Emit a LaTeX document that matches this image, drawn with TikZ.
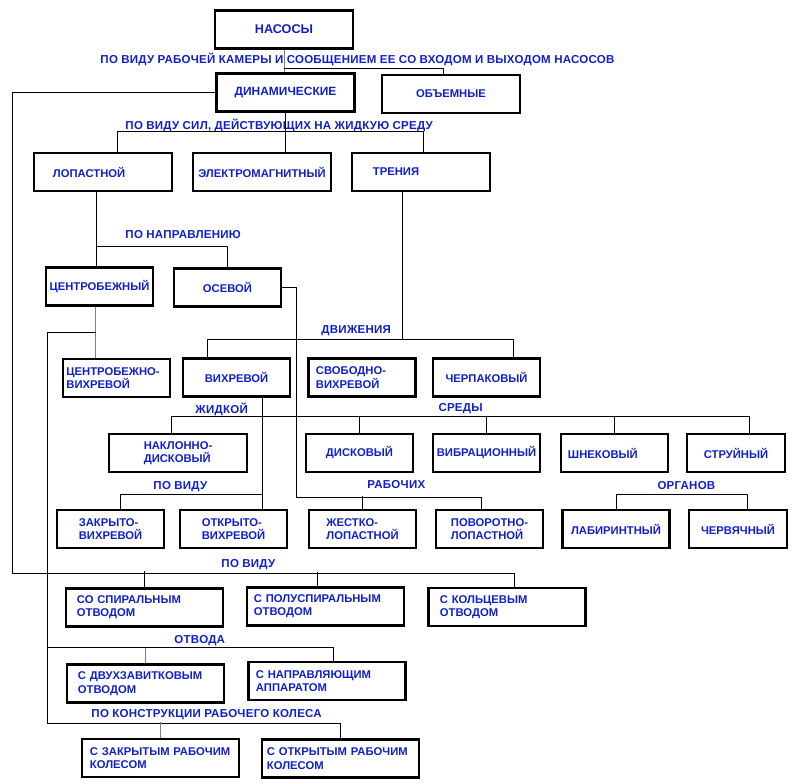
\documentclass[tikz,border=0pt]{standalone}
\usepackage{fontspec}
\setmainfont{Liberation Sans}
\newfontfamily\lblfont[LetterSpace=2]{Liberation Sans}
\definecolor{ink}{RGB}{16,32,200}

\begin{document}
\begin{tikzpicture}[x=0.025cm,y=-0.025cm,line width=0.7pt,
  box/.style={draw,line width=1.5pt,minimum height=0.95cm,inner xsep=1pt,inner ysep=1pt,text=ink,font=\fontsize{8}{9.5}\selectfont\bfseries},
  lbox/.style={box,align=left,text width=#1},
  big/.style={minimum width=3.45cm},
  med/.style={minimum width=2.675cm},
  lng/.style={minimum width=3.925cm},
  sml/.style={minimum width=2.45cm},
  lbl/.style={anchor=base west,inner sep=0pt,text=ink,font=\lblfont\fontsize{8.2}{9.5}\selectfont\bfseries},
  greyline/.style={draw=gray}]
	\useasboundingbox (0,0) rectangle (800,783);

	% boxes
	\node[box,big,font=\fontsize{9}{10}\selectfont\bfseries] (nasosy) at (284,29.5) {НАСОСЫ};
	\node[box,big,font=\fontsize{8.5}{10}\selectfont\bfseries] (dinam) at (285.5,92.5) {ДИНАМИЧЕСКИЕ};
	\node[box,big] (obem) at (451,94) {ОБЪЕМНЫЕ};
	\node[lbox=2.5cm,big] (lopast) at (103,172) {ЛОПАСТНОЙ};
	\node[box,big] (elektro) at (262,172) {ЭЛЕКТРОМАГНИТНЫЙ};
	\node[lbox=2.4cm,big] (trenie) at (421,172) {ТРЕНИЯ};
	\node[box,med] (centr) at (99.5,286.5) {ЦЕНТРОБЕЖНЫЙ};
	\node[box,med] (osev) at (227.5,287.5) {ОСЕВОЙ};
	\node[lbox=2.5cm,med] (cbvih) at (116.5,378) {ЦЕНТРОБЕЖНО-\\ВИХРЕВОЙ};
	\node[box,med] (vihr) at (236.5,377.5) {ВИХРЕВОЙ};
	\node[lbox=2.3cm,med] (svob) at (362,377.5) {СВОБОДНО-\\ВИХРЕВОЙ};
	\node[box,med] (cherp) at (486.5,377.5) {ЧЕРПАКОВЫЙ};
	\node[box,big,align=left] (nakl) at (178,453) {НАКЛОННО-\\ДИСКОВЫЙ};
	\node[box,med] (disk) at (359.5,453) {ДИСКОВЫЙ};
	\node[box,med] (vibr) at (486.5,453) {ВИБРАЦИОННЫЙ};
	\node[lbox=2.325cm,med] (shnek) at (614.5,453) {ШНЕКОВЫЙ};
	\node[box,sml] (struy) at (736,453) {СТРУЙНЫЙ};
	\node[box,med,align=left] (zakr) at (110.5,529) {ЗАКРЫТО-\\ВИХРЕВОЙ};
	\node[box,med,align=left] (otkr) at (233.5,529) {ОТКРЫТО-\\ВИХРЕВОЙ};
	\node[box,med,align=left] (zhest) at (362.5,529) {ЖЕСТКО-\\ЛОПАСТНОЙ};
	\node[box,med,align=left] (povor) at (489.5,529) {ПОВОРОТНО-\\ЛОПАСТНОЙ};
	\node[box,med] (labir) at (616,529) {ЛАБИРИНТНЫЙ};
	\node[box,sml] (cherv) at (738,529) {ЧЕРВЯЧНЫЙ};
	\node[lbox=3.375cm,lng] (spir) at (144.5,607.5) {СО СПИРАЛЬНЫМ\\ОТВОДОМ};
	\node[lbox=3.575cm,lng] (polu) at (325.5,606.5) {С ПОЛУСПИРАЛЬНЫМ\\ОТВОДОМ};
	\node[lbox=3.35cm,lng] (kolc) at (507,607) {С КОЛЬЦЕВЫМ\\ОТВОДОМ};
	\node[lbox=3.375cm,lng] (dvuh) at (145.5,683.5) {С ДВУХЗАВИТКОВЫМ\\ОТВОДОМ};
	\node[lbox=3.55cm,lng] (napr) at (327,681) {С НАПРАВЛЯЮЩИМ\\АППАРАТОМ};
	\node[lbox=3.525cm,lng] (zakol) at (160.5,758) {С ЗАКРЫТЫМ РАБОЧИМ\\КОЛЕСОМ};
	\node[lbox=3.675cm,lng] (otkol) at (340.5,758.5) {С ОТКРЫТЫМ РАБОЧИМ\\КОЛЕСОМ};

	% labels
	\node[lbl] (l1) at (100,63) {ПО ВИДУ РАБОЧЕЙ КАМЕРЫ И СООБЩЕНИЕМ ЕЕ СО ВХОДОМ И ВЫХОДОМ НАСОСОВ};
	\node[lbl] (l2) at (125,129) {ПО ВИДУ СИЛ, ДЕЙСТВУЮЩИХ НА ЖИДКУЮ СРЕДУ};
	\node[lbl] (l3) at (125,238) {ПО НАПРАВЛЕНИЮ};
	\node[lbl] (l4) at (321,333) {ДВИЖЕНИЯ};
	\node[lbl] (l5) at (195,413) {ЖИДКОЙ};
	\node[lbl] (l6) at (438,411) {СРЕДЫ};
	\node[lbl] (l7) at (153,489) {ПО ВИДУ};
	\node[lbl] (l8) at (367,488) {РАБОЧИХ};
	\node[lbl] (l9) at (657,489) {ОРГАНОВ};
	\node[lbl] (l10) at (221,567) {ПО ВИДУ};
	\node[lbl] (l11) at (174,643) {ОТВОДА};
	\node[lbl] (l12) at (91,717) {ПО КОНСТРУКЦИИ РАБОЧЕГО КОЛЕСА};

	\coordinate (spine) at (12,573);
	\coordinate (kon) at (47,723);
	\coordinate (rab) at (296,497);

	% connectors
	\draw[greyline] (nasosy.south) -- (nasosy.south |- dinam.north);
	\draw (nasosy.south) ++(0,19) -| ([xshift=-0.2cm]obem.north);
	\draw (dinam.south) -- (dinam.south |- elektro.north);
	\draw ([xshift=0.35cm]lopast.north) -- ++(0,-20) -| ([xshift=0.05cm]trenie.north);
	\draw (dinam.west) -| (spine) -| ([xshift=0.175cm]kolc.north);
	\draw (spir.north) -- ++(0,-16);
	\draw ([xshift=-0.2cm]polu.north) -- ++(0,-14);

	\draw ([xshift=-0.175cm]lopast.south) -- ([xshift=-0.175cm]lopast.south |- centr.north);
	\draw ([xshift=-0.175cm]lopast.south) ++(0,54) -| (osev.north);
	\draw[greyline] ([xshift=-0.1cm]centr.south) -- ([xshift=-0.1cm]centr.south |- cbvih.north);
	\draw ([xshift=-0.1cm]centr.south) ++(0,26) -| (kon) -| (otkol.north);
	\draw[greyline] (zakol.north) -- ++(0,-16);
	\draw ([xshift=0.15cm]napr.north) -- ++(0,-13) -| (kon);
	\draw[greyline] (dvuh.north) -- ++(0,-15);

	\draw (osev.east) -| (rab) -| ([xshift=-0.2cm]povor.north);
	\draw (zhest.north) -- ++(0,-13);

	\draw ([xshift=-0.475cm]trenie.south) -- ++(0,147) -| ([xshift=0.6625cm]cherp.north);
	\draw ([xshift=-0.475cm]trenie.south) ++(0,147) -| ([xshift=-0.7375cm]vihr.north);

	\draw ([xshift=0.6375cm]vihr.south) -- ([xshift=0.6375cm]vihr.south |- otkr.north);
	\draw ([xshift=-0.175cm]nakl.north) -- ++(0,-16) -| ([xshift=0.325cm]struy.north);
	\draw (disk.north) -- ++(0,-16);
	\draw (vibr.north) -- ++(0,-16);
	\draw (shnek.north) -- ++(0,-16);
	\draw ([xshift=0.25cm]zakr.north) -- ++(0,-14) -| ([xshift=0.6375cm]vihr.south);
	\draw (labir.north) -- ++(0,-14) -| ([xshift=0.225cm]cherv.north);
\end{tikzpicture}
\end{document}
